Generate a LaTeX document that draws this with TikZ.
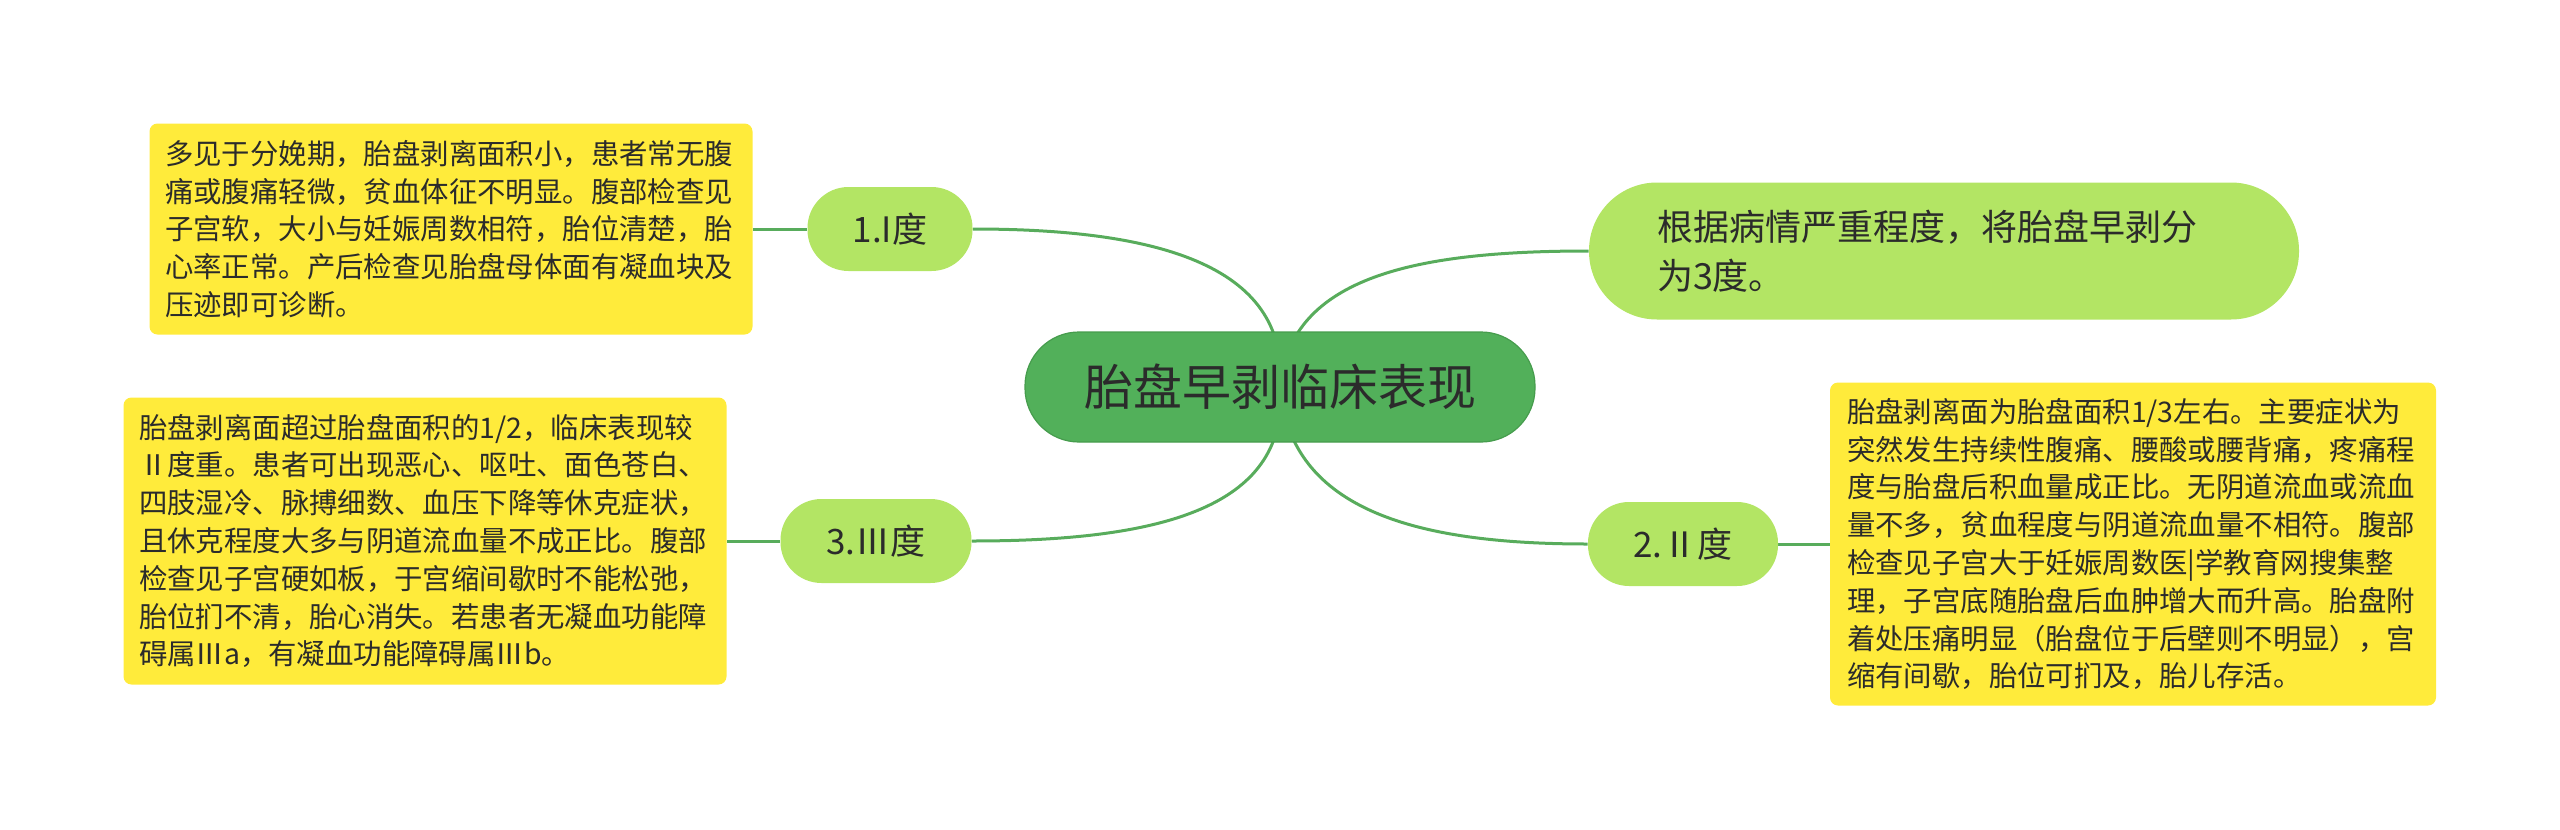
\documentclass[tikz,border=0pt]{standalone}
\usepackage{fontspec}
\setmainfont{Noto Sans CJK SC}
\usetikzlibrary{backgrounds}
\definecolor{rootgreen}{HTML}{52B05A}
\definecolor{rootline}{HTML}{469C4D}
\definecolor{subgreen}{HTML}{B3E564}
\definecolor{noteyellow}{HTML}{FFEB3B}
\definecolor{linkgreen}{HTML}{58AC5C}
\definecolor{txt}{HTML}{2B2B2B}
\tikzset{
	topic/.style={fill=subgreen,text=txt,inner sep=0pt,minimum height=42pt,rounded corners=20.5pt,font=\fontsize{17.5}{22}\selectfont},
	note/.style={fill=noteyellow,text=txt,inner sep=0pt,rounded corners=4pt,align=left,text width=286pt,font=\fontsize{14.2}{18.9}\selectfont},
	link/.style={draw=linkgreen,line width=1.5pt},
}
\begin{document}
\begin{tikzpicture}[x=0.5pt,y=-0.5pt]
	\useasboundingbox (0,0) rectangle (2560,830);
	\node [fill=rootgreen,draw=rootline,line width=0.6pt,text=txt,inner sep=0pt,minimum width=255pt,minimum height=55pt,rounded corners=27pt,font=\fontsize{24.5}{28}\selectfont] at (1280,387) (root) {胎盘早剥临床表现};
	\node [topic,minimum width=82.5pt] at (890,229) (t1) {1.I度};
	\node [topic,minimum width=95.5pt] at (876,541) (t3) {3.Ⅲ度};
	\node [topic,minimum width=95pt] at (1683,544) (t2) {2.Ⅱ度};
	\node [fill=subgreen,text=txt,inner sep=0pt,minimum width=355pt,minimum height=68.5pt,rounded corners=34pt,align=left,text width=287pt,font=\fontsize{18}{24.5}\selectfont] at (1944,251) (scale) {根据病情严重程度，将胎盘早剥分\\为3度。};
	\node [note,minimum width=301.5pt,minimum height=105.5pt] at (451,229) (n1) {多见于分娩期，胎盘剥离面积小，患者常无腹\\痛或腹痛轻微，贫血体征不明显。腹部检查见\\子宫软，大小与妊娠周数相符，胎位清楚，胎\\心率正常。产后检查见胎盘母体面有凝血块及\\压迹即可诊断。};
	\node [note,minimum width=301.5pt,minimum height=143.5pt] at (425,541) (n3) {胎盘剥离面超过胎盘面积的1/2，临床表现较\\Ⅱ度重。患者可出现恶心、呕吐、面色苍白、\\四肢湿冷、脉搏细数、血压下降等休克症状，\\且休克程度大多与阴道流血量不成正比。腹部\\检查见子宫硬如板，于宫缩间歇时不能松弛，\\胎位扪不清，胎心消失。若患者无凝血功能障\\碍属Ⅲa，有凝血功能障碍属Ⅲb。};
	\node [note,minimum width=303pt,minimum height=161.5pt] at (2133,544) (n2) {胎盘剥离面为胎盘面积1/3左右。主要症状为\\突然发生持续性腹痛、腰酸或腰背痛，疼痛程\\度与胎盘后积血量成正比。无阴道流血或流血\\量不多，贫血程度与阴道流血量不相符。腹部\\检查见子宫大于妊娠周数医|学教育网搜集整\\理，子宫底随胎盘后血肿增大而升高。胎盘附\\着处压痛明显（胎盘位于后壁则不明显），宫\\缩有间歇，胎位可扪及，胎儿存活。};
	\begin{pgfonlayer}{background}
		\draw [link] (root.center) .. controls (1290,262) and (1150,229) .. (t1.east);
		\draw [link] (root.center) .. controls (1290,275) and (1420,251) .. (scale.west);
		\draw [link] (root.center) .. controls (1290,512) and (1150,541) .. (t3.east);
		\draw [link] (root.center) .. controls (1290,512) and (1420,544) .. (t2.west);
		\draw [link] (t1.west) -- (n1.east);
		\draw [link] (t3.west) -- (n3.east);
		\draw [link] (t2.east) -- (n2.west);
	\end{pgfonlayer}
\end{tikzpicture}
\end{document}
